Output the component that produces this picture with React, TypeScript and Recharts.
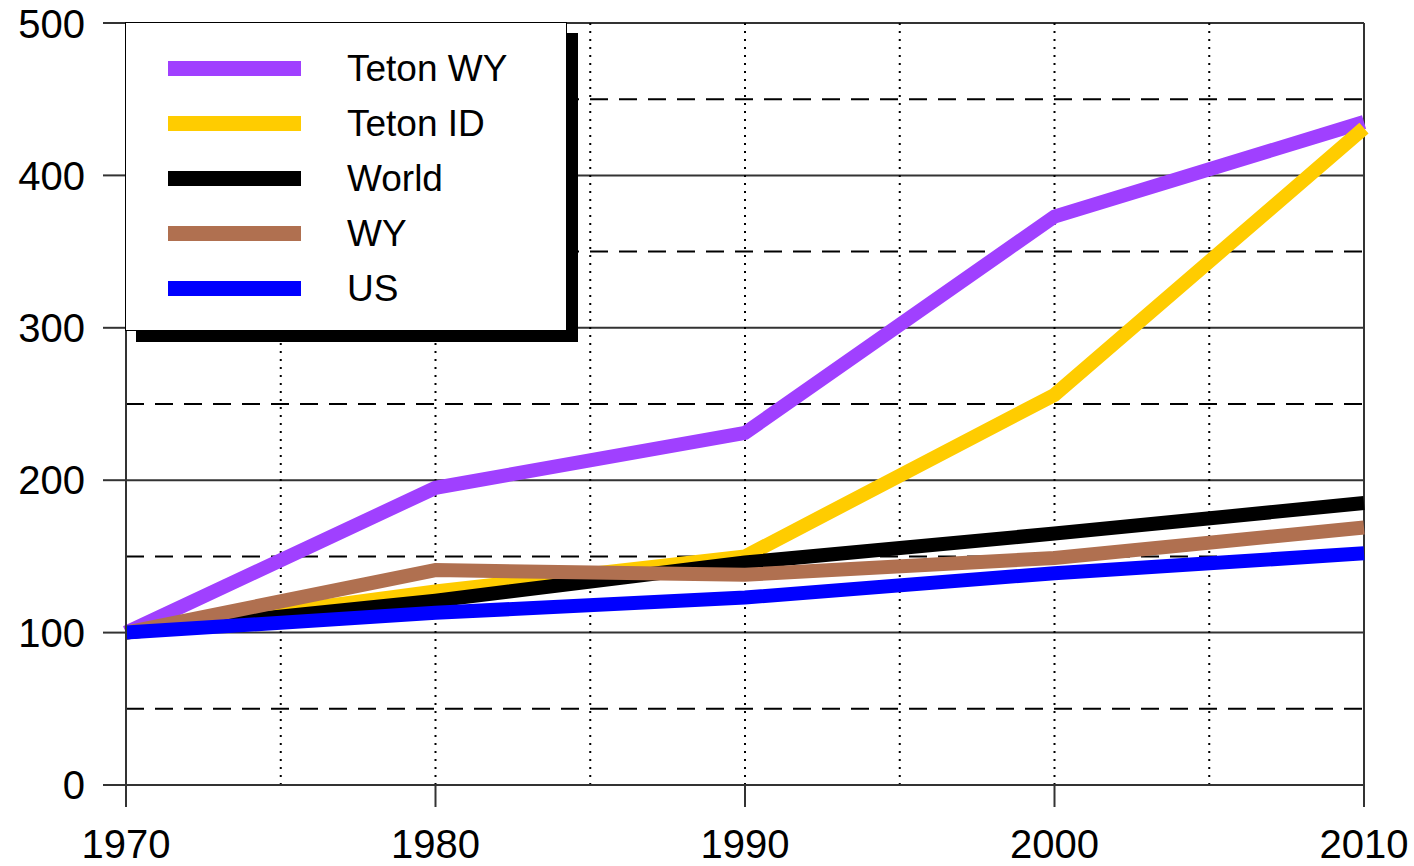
import {
  LineChart,
  Line,
  XAxis,
  YAxis,
  CartesianGrid,
  ReferenceLine,
  Legend,
} from "recharts";

const years = [1970, 1980, 1990, 2000, 2010];
const tetonWY = [100, 195, 231, 373, 435];
const tetonID = [100, 127, 150, 256, 431];
const world = [100, 121, 146, 165, 185];
const wy = [100, 141, 138, 149, 169];
const us = [100, 113, 123, 139, 152];

const yTicks = [0, 100, 200, 300, 400, 500];
const dashedY = [50, 150, 250, 350, 450];
const dottedX = [1975, 1980, 1985, 1990, 1995, 2000, 2005];

const seriesKeys = ["tetonWY", "tetonID", "world", "wy", "us"];
const seriesNames = ["Teton WY", "Teton ID", "World", "WY", "US"];
const seriesColors = ["#A040FF", "#FFCC00", "#000000", "#B07050", "#0000FF"];

const data = years.map((year, i) => ({
  year,
  tetonWY: tetonWY[i],
  tetonID: tetonID[i],
  world: world[i],
  wy: wy[i],
  us: us[i],
}));

const FONT = "'Liberation Sans', Arial, sans-serif";

// legend drawn in series order (recharts sorts payload by name otherwise)
function LegendBox() {
  return (
    <div
      style={{
        width: 442,
        height: 309,
        border: "1px solid #000",
        background: "#fff",
        boxShadow: "11px 11px 0 0 #000",
        paddingTop: 18,
        boxSizing: "border-box",
        fontFamily: FONT,
      }}
    >
      {seriesNames.map((name, i) => (
        <div
          key={name}
          style={{ display: "flex", alignItems: "center", height: 55 }}
        >
          <div
            style={{
              marginLeft: 42,
              width: 133,
              height: 15,
              background: seriesColors[i],
            }}
          />
          <span style={{ marginLeft: 46, fontSize: 37, color: "#000" }}>
            {name}
          </span>
        </div>
      ))}
    </div>
  );
}

export default function App() {
  return (
    <div style={{ position: "absolute", left: 0, top: 0, background: "#fff" }}>
      <LineChart
        width={1414}
        height={866}
        data={data}
        margin={{ top: 23, right: 50, left: 0, bottom: 0 }}
        style={{ fontFamily: FONT }}
      >
        <CartesianGrid vertical={false} stroke="#333" strokeWidth={2} />
        {dashedY.map((v) => (
          <ReferenceLine
            key={"h" + v}
            y={v}
            stroke="#000"
            strokeWidth={2}
            strokeDasharray="18 11"
          />
        ))}
        {dottedX.map((v) => (
          <ReferenceLine
            key={"v" + v}
            x={v}
            stroke="#000"
            strokeWidth={2}
            strokeDasharray="2 6"
          />
        ))}
        <ReferenceLine x={2010} stroke="#333" strokeWidth={2} />
        <XAxis
          dataKey="year"
          type="number"
          domain={[1970, 2010]}
          ticks={years}
          height={81}
          tickSize={22}
          tickMargin={23}
          stroke="#333"
          strokeWidth={2}
          tick={{ fill: "#000", fontSize: 40 }}
        />
        <YAxis
          domain={[0, 500]}
          ticks={yTicks}
          width={126}
          tickSize={23}
          tickMargin={18}
          stroke="#333"
          strokeWidth={2}
          tick={{ fill: "#000", fontSize: 40 }}
        />
        <Legend
          layout="vertical"
          align="center"
          verticalAlign="middle"
          wrapperStyle={{ left: 125, top: 22, width: "auto" }}
          content={<LegendBox />}
        />
        {seriesKeys.map((key, i) => (
          <Line
            key={key}
            dataKey={key}
            name={seriesNames[i]}
            stroke={seriesColors[i]}
            strokeWidth={14}
            dot={false}
            isAnimationActive={false}
          />
        ))}
      </LineChart>
    </div>
  );
}
